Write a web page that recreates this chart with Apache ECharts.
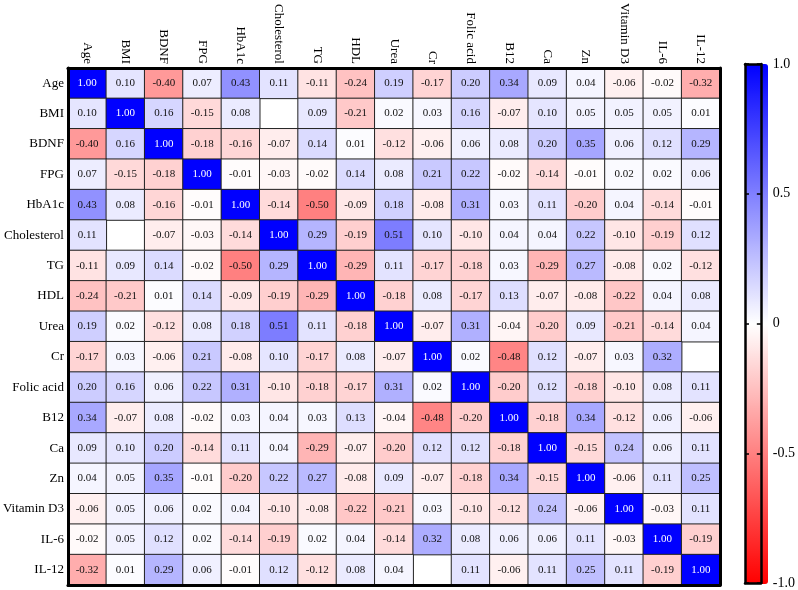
<!DOCTYPE html>
<html lang="en">
<head>
    <meta charset="UTF-8">
    <title>Correlation heatmap</title>
    <style>
        * { padding: 0; margin: 0; }
        html, body { height: 100%; width: 100%; background: #fff; }
        #chart { width: 798px; height: 590px; }
    </style>
</head>
<body>
    <div id="chart"></div>
    <script src="https://cdn.jsdelivr.net/npm/echarts@6/dist/echarts.min.js"></script>
    <script type="text/javascript">
        const vars = ['Age', 'BMI', 'BDNF', 'FPG', 'HbA1c', 'Cholesterol', 'TG', 'HDL', 'Urea', 'Cr',
            'Folic acid', 'B12', 'Ca', 'Zn', 'Vitamin D3', 'IL-6', 'IL-12'];

        // one row per variable, same order as vars; null = blank cell
        const corr = [
            [1.00, 0.10, -0.40, 0.07, 0.43, 0.11, -0.11, -0.24, 0.19, -0.17, 0.20, 0.34, 0.09, 0.04, -0.06, -0.02, -0.32],
            [0.10, 1.00, 0.16, -0.15, 0.08, null, 0.09, -0.21, 0.02, 0.03, 0.16, -0.07, 0.10, 0.05, 0.05, 0.05, 0.01],
            [-0.40, 0.16, 1.00, -0.18, -0.16, -0.07, 0.14, 0.01, -0.12, -0.06, 0.06, 0.08, 0.20, 0.35, 0.06, 0.12, 0.29],
            [0.07, -0.15, -0.18, 1.00, -0.01, -0.03, -0.02, 0.14, 0.08, 0.21, 0.22, -0.02, -0.14, -0.01, 0.02, 0.02, 0.06],
            [0.43, 0.08, -0.16, -0.01, 1.00, -0.14, -0.50, -0.09, 0.18, -0.08, 0.31, 0.03, 0.11, -0.20, 0.04, -0.14, -0.01],
            [0.11, null, -0.07, -0.03, -0.14, 1.00, 0.29, -0.19, 0.51, 0.10, -0.10, 0.04, 0.04, 0.22, -0.10, -0.19, 0.12],
            [-0.11, 0.09, 0.14, -0.02, -0.50, 0.29, 1.00, -0.29, 0.11, -0.17, -0.18, 0.03, -0.29, 0.27, -0.08, 0.02, -0.12],
            [-0.24, -0.21, 0.01, 0.14, -0.09, -0.19, -0.29, 1.00, -0.18, 0.08, -0.17, 0.13, -0.07, -0.08, -0.22, 0.04, 0.08],
            [0.19, 0.02, -0.12, 0.08, 0.18, 0.51, 0.11, -0.18, 1.00, -0.07, 0.31, -0.04, -0.20, 0.09, -0.21, -0.14, 0.04],
            [-0.17, 0.03, -0.06, 0.21, -0.08, 0.10, -0.17, 0.08, -0.07, 1.00, 0.02, -0.48, 0.12, -0.07, 0.03, 0.32, null],
            [0.20, 0.16, 0.06, 0.22, 0.31, -0.10, -0.18, -0.17, 0.31, 0.02, 1.00, -0.20, 0.12, -0.18, -0.10, 0.08, 0.11],
            [0.34, -0.07, 0.08, -0.02, 0.03, 0.04, 0.03, 0.13, -0.04, -0.48, -0.20, 1.00, -0.18, 0.34, -0.12, 0.06, -0.06],
            [0.09, 0.10, 0.20, -0.14, 0.11, 0.04, -0.29, -0.07, -0.20, 0.12, 0.12, -0.18, 1.00, -0.15, 0.24, 0.06, 0.11],
            [0.04, 0.05, 0.35, -0.01, -0.20, 0.22, 0.27, -0.08, 0.09, -0.07, -0.18, 0.34, -0.15, 1.00, -0.06, 0.11, 0.25],
            [-0.06, 0.05, 0.06, 0.02, 0.04, -0.10, -0.08, -0.22, -0.21, 0.03, -0.10, -0.12, 0.24, -0.06, 1.00, -0.03, 0.11],
            [-0.02, 0.05, 0.12, 0.02, -0.14, -0.19, 0.02, 0.04, -0.14, 0.32, 0.08, 0.06, 0.06, 0.11, -0.03, 1.00, -0.19],
            [-0.32, 0.01, 0.29, 0.06, -0.01, 0.12, -0.12, 0.08, 0.04, null, 0.11, -0.06, 0.11, 0.25, 0.11, -0.19, 1.00]
        ];

        const scaleTicks = [-1, -0.5, 0, 0.5, 1];
        const scaleColors = ['#ff0000', '#ffffff', '#0000ff'];

        const font = 'Liberation Serif';

        let cells = [];
        for (let i = 0; i < corr.length; i++) {
            for (let j = 0; j < corr[i].length; j++) {
                let v = corr[i][j];
                if (v === null) continue;
                let item = { value: [j, i, v] };
                if (i === j) item.label = { color: '#fff' };
                cells.push(item);
            }
        }

        const frameLine = { show: true, onZero: false, lineStyle: { color: '#000', width: 3 } };
        const barLine = { show: true, onZero: false, lineStyle: { color: '#000', width: 2.5 } };

        var myChart = echarts.init(document.getElementById('chart'));
        var option = {
            backgroundColor: '#fff',
            animation: false,
            textStyle: { fontFamily: font },
            grid: [
                { left: 66, right: 78, top: 64, bottom: 5 },
                { left: 745, width: 23, top: 64, bottom: 6 }
            ],
            xAxis: [
                {
                    type: 'category', data: vars, position: 'top', gridIndex: 0, z: 10,
                    axisLine: frameLine,
                    axisTick: { show: false },
                    axisLabel: { rotate: 90, margin: 4, color: '#000', fontSize: 13, fontFamily: font, interval: 0 },
                    splitLine: { show: false }
                },
                {
                    type: 'category', data: vars, position: 'bottom', gridIndex: 0, z: 10,
                    axisLine: frameLine, axisTick: { show: false }, axisLabel: { show: false }
                },
                {
                    type: 'value', min: 0, max: 1, position: 'top', gridIndex: 1, z: 10,
                    axisLine: barLine,
                    axisTick: { show: false }, axisLabel: { show: false }, splitLine: { show: false }
                },
                {
                    type: 'value', min: 0, max: 1, position: 'bottom', gridIndex: 1, z: 10,
                    axisLine: barLine,
                    axisTick: { show: false }, axisLabel: { show: false }, splitLine: { show: false }
                }
            ],
            yAxis: [
                {
                    type: 'category', data: vars, inverse: true, position: 'left', gridIndex: 0, z: 10,
                    axisLine: frameLine,
                    axisTick: { show: false },
                    axisLabel: { margin: 4, color: '#000', fontSize: 13, fontFamily: font, interval: 0 },
                    splitLine: { show: false }
                },
                {
                    type: 'category', data: vars, inverse: true, position: 'right', gridIndex: 0, z: 10,
                    axisLine: frameLine, axisTick: { show: false }, axisLabel: { show: false }
                },
                {
                    type: 'value', min: scaleTicks[0], max: scaleTicks[4], interval: 0.5,
                    position: 'left', gridIndex: 1, z: 10,
                    axisLine: barLine,
                    axisTick: { show: true, inside: true, length: 4, lineStyle: { color: '#000', width: 1.5 } },
                    axisLabel: { show: false }, splitLine: { show: false }
                },
                {
                    type: 'value', min: scaleTicks[0], max: scaleTicks[4], interval: 0.5,
                    position: 'right', gridIndex: 1, z: 10,
                    axisLine: barLine,
                    axisTick: { show: true, inside: true, length: 4, lineStyle: { color: '#000', width: 1.5 } },
                    axisLabel: {
                        margin: 12, color: '#000', fontSize: 14, fontFamily: font,
                        formatter: function (v) { return v === 0 ? '0' : v.toFixed(1); }
                    },
                    splitLine: { show: false }
                }
            ],
            visualMap: {
                type: 'continuous',
                min: -1,
                max: 1,
                seriesIndex: 0,
                orient: 'vertical',
                left: 745,
                top: 64,
                padding: 0,
                itemWidth: 23,
                itemHeight: 520,
                calculable: false,
                showLabel: false,
                text: null,
                z: 1,
                inRange: { color: scaleColors }
            },
            series: [
                {
                    type: 'heatmap',
                    xAxisIndex: 0,
                    yAxisIndex: 0,
                    data: cells,
                    label: {
                        show: true,
                        color: '#111',
                        fontSize: 11,
                        fontFamily: font,
                        formatter: function (p) { return p.value[2].toFixed(2); }
                    },
                    itemStyle: { borderColor: '#222', borderWidth: 1 }
                }
            ]
        };

        myChart.setOption(option);
    </script>
</body>
</html>
